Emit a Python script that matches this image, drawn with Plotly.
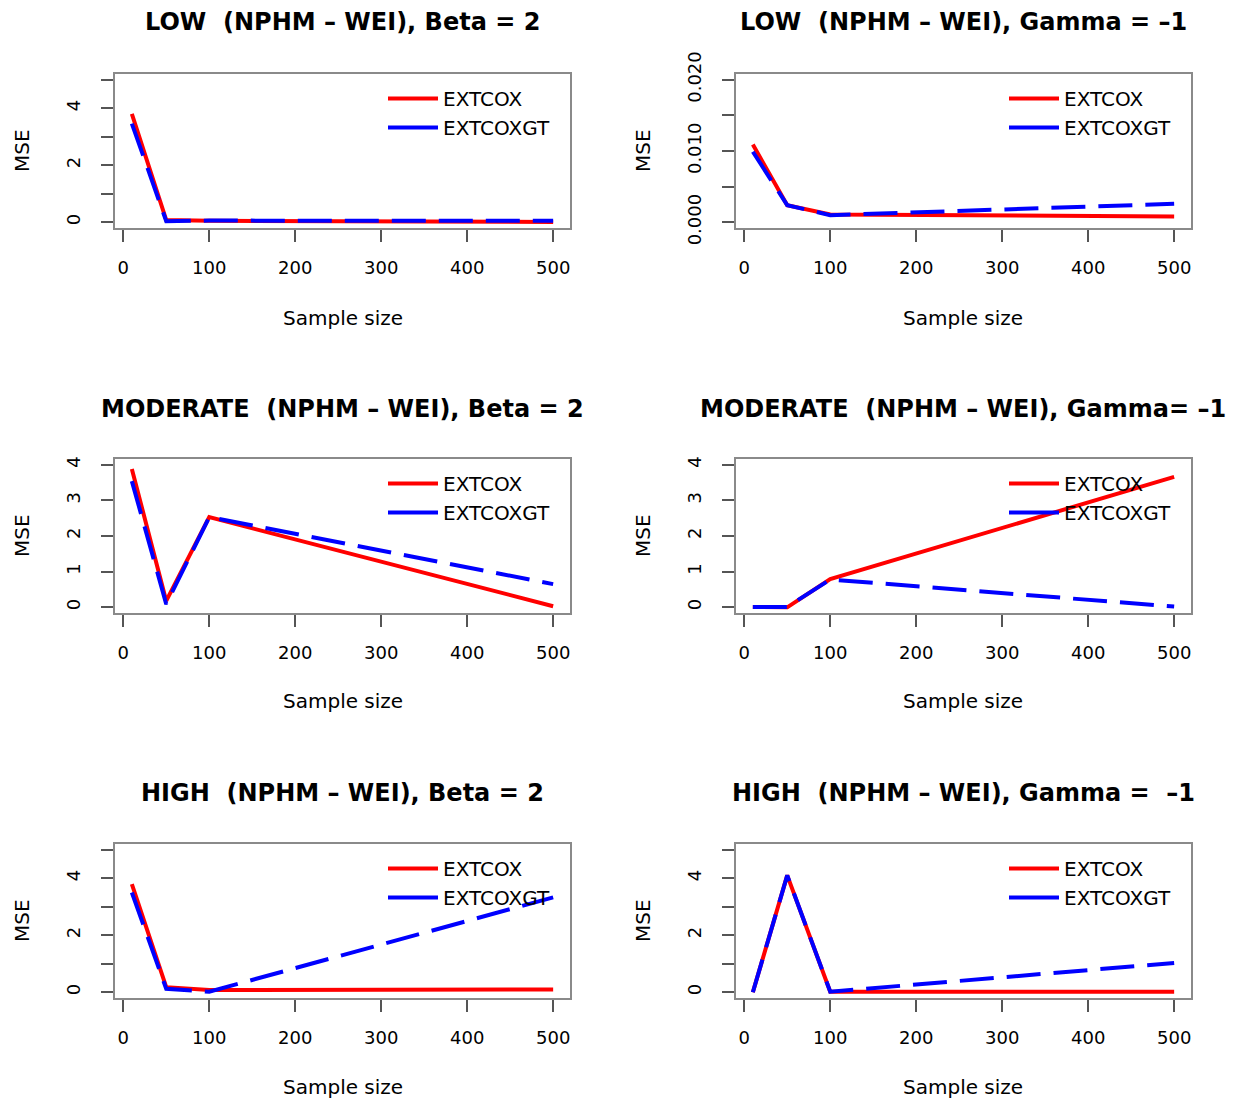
import plotly.graph_objects as go

# ---------------- data ----------------
sample_size = [10, 50, 100, 500]
series_names = ["EXTCOX", "EXTCOXGT"]

titles = [
    "LOW\u00a0\u00a0(NPHM \u2013 WEI), Beta = 2",
    "LOW\u00a0\u00a0(NPHM \u2013 WEI), Gamma = \u20131",
    "MODERATE\u00a0\u00a0(NPHM \u2013 WEI), Beta = 2",
    "MODERATE\u00a0\u00a0(NPHM \u2013 WEI), Gamma= \u20131",
    "HIGH\u00a0\u00a0(NPHM \u2013 WEI), Beta = 2",
    "HIGH\u00a0\u00a0(NPHM \u2013 WEI), Gamma =\u00a0\u00a0\u20131",
]

low_beta_extcox = [3.80, 0.08, 0.05, 0.01]
low_beta_extcoxgt = [3.46, 0.04, 0.06, 0.05]
low_gamma_extcox = [0.0109, 0.0024, 0.0011, 0.0008]
low_gamma_extcoxgt = [0.0099, 0.0024, 0.0010, 0.0026]
mod_beta_extcox = [3.88, 0.18, 2.53, 0.03]
mod_beta_extcoxgt = [3.54, 0.09, 2.53, 0.65]
mod_gamma_extcox = [0.01, 0.0, 0.79, 3.66]
mod_gamma_extcoxgt = [0.01, 0.01, 0.78, 0.02]
high_beta_extcox = [3.79, 0.18, 0.08, 0.10]
high_beta_extcoxgt = [3.50, 0.12, 0.02, 3.33]
high_gamma_extcox = [0.0, 4.10, 0.02, 0.02]
high_gamma_extcoxgt = [0.0, 4.10, 0.02, 1.03]

x_ticks = [0, 100, 200, 300, 400, 500]
y_ticks_5 = [0, 1, 2, 3, 4, 5]
y_labels_5 = ["0", "", "2", "", "4", ""]
y_ticks_4 = [0, 1, 2, 3, 4]
y_labels_4 = ["0", "1", "2", "3", "4"]
y_ticks_g = [0, 0.005, 0.010, 0.015, 0.020]
y_labels_g = ["0.000", "", "0.010", "", "0.020"]

panels = [
    (low_beta_extcox, low_beta_extcoxgt, (0, 5), y_ticks_5, y_labels_5),
    (low_gamma_extcox, low_gamma_extcoxgt, (0, 0.02), y_ticks_g, y_labels_g),
    (mod_beta_extcox, mod_beta_extcoxgt, (0, 4), y_ticks_4, y_labels_4),
    (mod_gamma_extcox, mod_gamma_extcoxgt, (0, 4), y_ticks_4, y_labels_4),
    (high_beta_extcox, high_beta_extcoxgt, (0, 5), y_ticks_5, y_labels_5),
    (high_gamma_extcox, high_gamma_extcoxgt, (0, 5), y_ticks_5, y_labels_5),
]

# ---------------- layout geometry (page pixels) ----------------
PAGE_W, PAGE_H = 1240, 1099
OFF = 8  # default page body margin
W, H = PAGE_W - OFF, PAGE_H - OFF
col_px = [(115, 570), (736, 1191)]
row_px = [(74, 228), (459, 613), (844, 998)]
title_y = [22, 409, 793]
xlab_y = [318, 701, 1087]
ylab_x = [22, 643]

FONT = "DejaVu Sans, Verdana, sans-serif"
RED = "#FF0000"
BLUE = "#0000FF"
colors = [RED, BLUE]


def px(x):
    return (x - OFF) / W


def py(y):
    return 1 - (y - OFF) / H


def ext(lo, hi):
    d = (hi - lo) * 0.04
    return [lo - d, hi + d]


fig = go.Figure()
layout = dict(
    template="none",
    width=W, height=H, autosize=False,
    margin=dict(l=0, r=0, t=0, b=0, pad=0),
    paper_bgcolor="white", plot_bgcolor="white",
    font=dict(family=FONT, color="black"),
    showlegend=True,
)
annotations = []

for i, (s1, s2, ylim, yt, yl) in enumerate(panels):
    r, c = divmod(i, 2)
    ax = "" if i == 0 else str(i + 1)
    leg = "legend" if i == 0 else f"legend{i + 1}"
    x0, x1 = col_px[c]
    y0, y1 = row_px[r]

    fig.add_trace(go.Scatter(
        x=sample_size, y=s1, mode="lines", name=series_names[0],
        line=dict(color=RED, width=4), xaxis="x" + ax, yaxis="y" + ax,
        showlegend=False, hoverinfo="skip"))
    fig.add_trace(go.Scatter(
        x=sample_size, y=s2, mode="lines", name=series_names[1],
        line=dict(color=BLUE, width=4, dash="34px,13px"),
        xaxis="x" + ax, yaxis="y" + ax, showlegend=False, hoverinfo="skip"))
    # legend keys are drawn solid, as in the original legend
    for name, col in zip(series_names, colors):
        fig.add_trace(go.Scatter(
            x=[None], y=[None], mode="lines", name=name,
            line=dict(color=col, width=4), xaxis="x" + ax, yaxis="y" + ax,
            legend=leg, showlegend=True, hoverinfo="skip"))

    layout["xaxis" + ax] = dict(
        domain=[px(x0), px(x1)], anchor="y" + ax, automargin=False,
        range=ext(10, 500), tickmode="array", tickvals=x_ticks,
        ticks="outside", ticklen=12, tickwidth=2, tickcolor="#555555",
        showline=True, linecolor="#8a8a8a", linewidth=2, mirror=True,
        showgrid=False, zeroline=False, fixedrange=True,
        tickfont=dict(size=18, family=FONT, color="black"),
        ticklabelstandoff=10,
    )
    layout["yaxis" + ax] = dict(
        domain=[py(y1), py(y0)], anchor="x" + ax, automargin=False,
        range=ext(*ylim), tickmode="array", tickvals=yt, ticktext=yl,
        ticks="outside", ticklen=12, tickwidth=2, tickcolor="#555555",
        showline=True, linecolor="#8a8a8a", linewidth=2, mirror=True,
        showgrid=False, zeroline=False, fixedrange=True, tickangle=-90,
        tickfont=dict(size=18, family=FONT, color="black"),
        ticklabelstandoff=14,
    )
    layout[leg] = dict(
        x=px(x0 + 268), y=py(y0 + 5), xanchor="left", yanchor="top",
        bgcolor="rgba(0,0,0,0)", borderwidth=0,
        font=dict(size=20, family=FONT, color="black"),
        itemwidth=50, tracegroupgap=0,
    )

    cx = (x0 + x1) / 2
    annotations.append(dict(
        text="<b>" + titles[i] + "</b>", x=px(cx), y=py(title_y[r]),
        xref="paper", yref="paper", xanchor="center", yanchor="middle",
        showarrow=False, font=dict(size=24, family=FONT, color="black")))
    annotations.append(dict(
        text="Sample size", x=px(cx), y=py(xlab_y[r]),
        xref="paper", yref="paper", xanchor="center", yanchor="middle",
        showarrow=False, font=dict(size=20, family=FONT, color="black")))
    annotations.append(dict(
        text="MSE", x=px(ylab_x[c]), y=py((y0 + y1) / 2), textangle=-90,
        xref="paper", yref="paper", xanchor="center", yanchor="middle",
        showarrow=False, font=dict(size=20, family=FONT, color="black")))

layout["annotations"] = annotations
fig.update_layout(**layout)
fig.write_html("out.html")
